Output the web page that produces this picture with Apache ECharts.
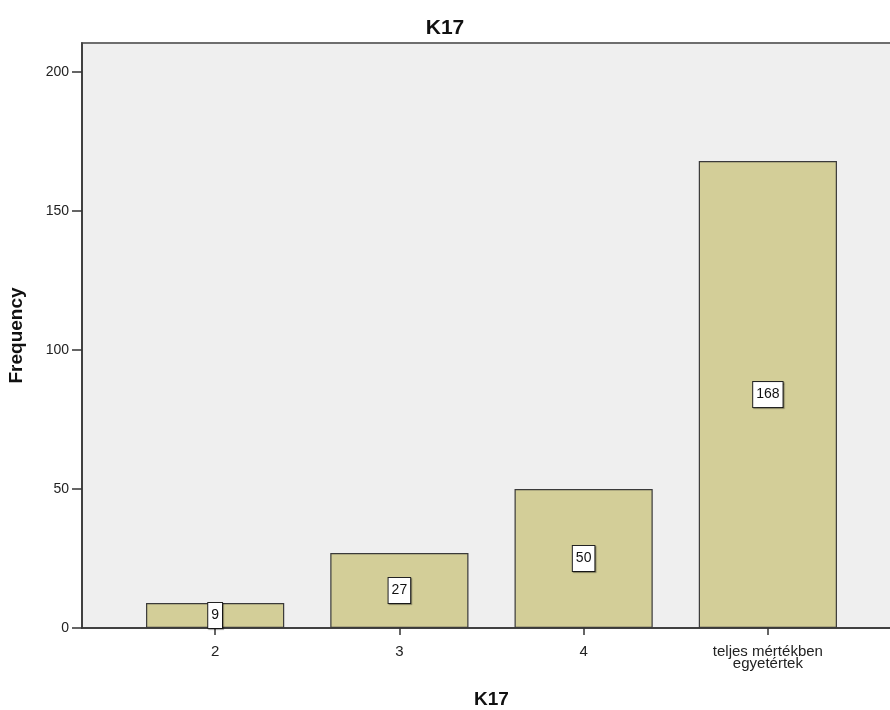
<!DOCTYPE html>
<html>
<head>
<meta charset="utf-8">
<title>K17</title>
<script src="https://cdn.jsdelivr.net/npm/echarts@6/dist/echarts.min.js"></script>
<style>
  html, body { margin: 0; padding: 0; background: #fff; }
  #chart { width: 890px; height: 710px; }
</style>
</head>
<body>
<div id="chart"></div>
<script>
// Response categories and their counts
const categories = ['2', '3', '4', 'teljes mértékben\negyetértek'];
const frequencies = [9, 27, 50, 168];
const yTicks = [0, 50, 100, 150, 200];

const yMax = 210.5;
const font = 'Liberation Sans, Arial, sans-serif';

const chart = echarts.init(document.getElementById('chart'), null, { renderer: 'canvas' });

chart.setOption({
  animation: false,
  backgroundColor: '#ffffff',
  title: {
    text: 'K17',
    left: 'center',
    top: 13,
    textStyle: { fontFamily: font, fontSize: 21, fontWeight: 'bold', color: '#111' }
  },
  grid: [
    // frame / background of the plot area (runs past the right edge of the canvas)
    { left: 82, width: 819, top: 43, bottom: 82, show: true, backgroundColor: '#efefef',
      borderColor: '#6e6e6e', borderWidth: 2, outerBoundsMode: 'none', containLabel: false },
    // inner band that holds the bars
    { left: 123, width: 737, top: 43, bottom: 82, outerBoundsMode: 'none', containLabel: false }
  ],
  xAxis: [
    {
      gridIndex: 0, type: 'value', min: 0, max: 1,
      name: 'K17', nameLocation: 'middle', nameGap: 62,
      nameTextStyle: { fontFamily: font, fontSize: 19, fontWeight: 'bold', color: '#111' },
      axisLine: { show: true, lineStyle: { color: '#333', width: 1.5 } },
      axisTick: { show: false }, axisLabel: { show: false }, splitLine: { show: false }
    },
    {
      gridIndex: 1, type: 'category', data: categories,
      axisLine: { show: false },
      axisTick: { show: true, alignWithLabel: true, length: 7, inside: false,
                  lineStyle: { color: '#333', width: 1.5 } },
      axisLabel: { fontFamily: font, fontSize: 15, color: '#222', margin: 18, lineHeight: 12, interval: 0 }
    }
  ],
  yAxis: [
    {
      gridIndex: 0, type: 'value', min: 0, max: yMax,
      name: 'Frequency', nameLocation: 'middle', nameGap: 56,
      nameTextStyle: { fontFamily: font, fontSize: 19, fontWeight: 'bold', color: '#111' },
      axisLine: { show: true, lineStyle: { color: '#333', width: 1.5 } },
      axisTick: { show: true, length: 10, customValues: yTicks, lineStyle: { color: '#333', width: 1.5 } },
      axisLabel: { fontFamily: font, fontSize: 14, color: '#222', margin: 13, customValues: yTicks },
      splitLine: { show: false }
    },
    {
      gridIndex: 1, type: 'value', min: 0, max: yMax, show: false, splitLine: { show: false }
    }
  ],
  series: [
    {
      type: 'bar',
      xAxisIndex: 1, yAxisIndex: 1,
      data: frequencies,
      barWidth: '75%',
      itemStyle: { color: '#d3ce98', borderColor: '#3a3a3a', borderWidth: 1.2 },
      label: {
        show: true, position: 'inside',
        fontFamily: font, fontSize: 14, color: '#111',
        backgroundColor: '#ffffff', borderColor: '#222', borderWidth: 1,
        padding: [6, 3, 5, 3],
        shadowColor: 'rgba(0,0,0,0.35)', shadowOffsetX: 1, shadowOffsetY: 1, shadowBlur: 1
      }
    }
  ]
});
</script>
</body>
</html>
